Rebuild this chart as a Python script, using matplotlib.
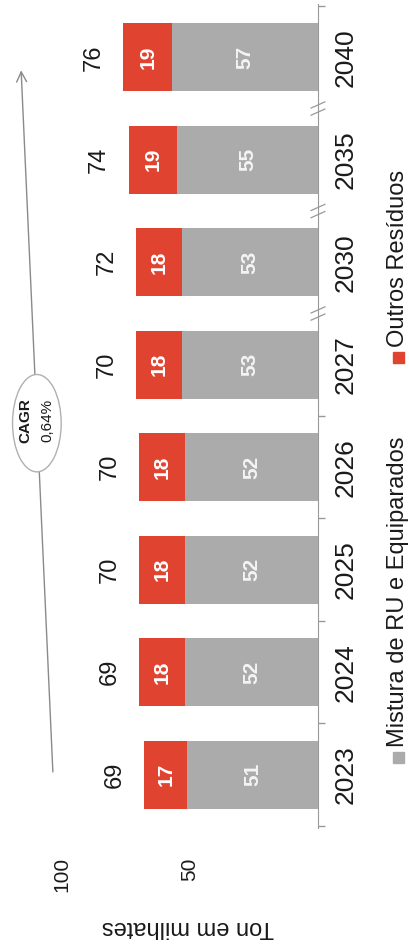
import matplotlib.pyplot as plt
from matplotlib.patches import Ellipse, Rectangle

plt.rcParams['font.family'] = ['Liberation Sans', 'DejaVu Sans']

# dados (mil toneladas)
anos = ['2023', '2024', '2025', '2026', '2027', '2030', '2035', '2040']
mistura = [51, 52, 52, 52, 53, 53, 55, 57]
outros = [17, 18, 18, 18, 18, 18, 19, 19]
totais = [69, 69, 70, 70, 70, 72, 74, 76]
cagr = '0,64%'
legenda = ['Mistura de RU e Equiparados', 'Outros Resíduos']

cinza = '#ababab'
vermelho = '#e04430'
linha = '#999999'

W, H = 410, 947
fig = plt.figure(figsize=(W / 100, H / 100), dpi=100)
# eixo de valores corre da direita para a esquerda, anos de baixo para cima
ax = fig.add_axes([0, 1 - 828 / H, 318 / W, 824 / H])
pos = list(range(len(anos)))

ax.barh(pos, mistura, height=0.66, color=cinza)
ax.barh(pos, outros, left=mistura, height=0.66, color=vermelho)
ax.set_xlim(124.2, 0)
ax.set_ylim(-0.52, 7.52)

for i in pos:
    ax.text(mistura[i] / 2, i, str(mistura[i]), rotation=90, ha='center', va='center',
            color='#f4f4f4', fontsize=15, fontweight='bold')
    ax.text(mistura[i] + outros[i] / 2, i, str(outros[i]), rotation=90, ha='center',
            va='center', color='white', fontsize=15, fontweight='bold')
    ax.text(mistura[i] + outros[i] + 11.5, i, str(totais[i]), rotation=90, ha='center',
            va='center', color='#1a1a1a', fontsize=17)

# eixo das categorias (à direita)
for s in ['top', 'left', 'bottom']:
    ax.spines[s].set_visible(False)
ax.spines['right'].set_color(linha)
ax.yaxis.tick_right()
ax.set_yticks(pos, anos)
ax.set_yticks([-0.5, 0.5, 1.5, 2.5, 3.5, 7.5], minor=True)
ax.tick_params(axis='y', which='major', length=0, pad=11, labelsize=19, labelcolor='#1a1a1a')
ax.tick_params(axis='y', which='minor', length=5, color=linha, width=1)
for t in ax.get_yticklabels():
    t.set_rotation(90)
    t.set_va('center')

# quebras de escala entre anos não consecutivos
for b in [4.5, 5.5, 6.5]:
    for d in [-0.035, 0.035]:
        ax.plot([2.7, -2.7], [b + d - 0.03, b + d + 0.03], color=linha, lw=0.9,
                clip_on=False)

# eixo de valores
ax.set_xticks([50, 100], ['50', '100'])
ax.tick_params(axis='x', length=0, pad=21, labelsize=15, labelcolor='#1a1a1a')
for t in ax.get_xticklabels():
    t.set_rotation(90)
    t.set_va('top')

fig.text(188 / W, 1 - 927 / H, 'Ton em milhates', rotation=180, ha='center', va='center',
         fontsize=17, color='#1a1a1a')

# seta de crescimento com CAGR
ax.annotate('', xy=(116, 6.9), xytext=(103.5, 0.0),
            arrowprops=dict(arrowstyle='->', color='#8a8a8a', lw=1, mutation_scale=18),
            annotation_clip=False)
ax.add_patch(Ellipse((109.8, 3.43), 19, 0.95, facecolor='white', edgecolor='#b0b0b0',
                     lw=1, zorder=5, clip_on=False))
ax.text(114.2, 3.46, 'CAGR', rotation=90, ha='center', va='center', fontsize=11,
        fontweight='bold', zorder=6, color='#1a1a1a')
ax.text(105.6, 3.46, cagr, rotation=90, ha='center', va='center', fontsize=11,
        zorder=6, color='#1a1a1a')

# legenda
for txt, cor, y0 in zip(legenda, [cinza, vermelho], [757, 357]):
    fig.add_artist(Rectangle((393 / W, 1 - (y0 + 6) / H), 11 / W, 11 / H,
                             transform=fig.transFigure, color=cor))
    fig.text(398 / W, 1 - (y0 - 10) / H, txt, rotation=90, ha='center', va='bottom',
             fontsize=17, color='#1a1a1a')

fig.savefig('out.png', dpi=100)
